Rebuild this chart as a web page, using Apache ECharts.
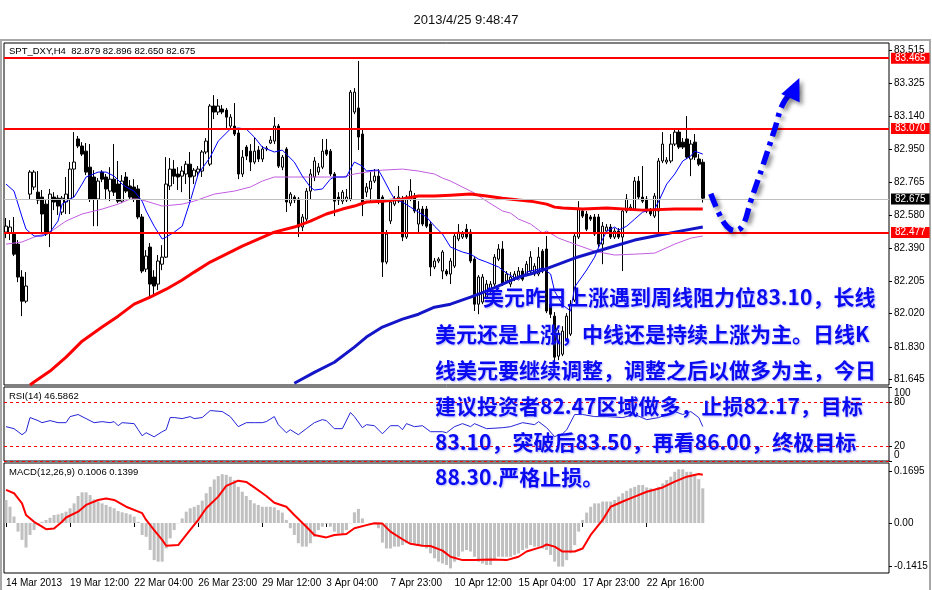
<!DOCTYPE html>
<html><head><meta charset="utf-8">
<script src="https://cdn.jsdelivr.net/npm/echarts@6/dist/echarts.min.js"></script>
<style>html,body{margin:0;padding:0;background:#fff}#c{width:932px;height:590px}</style>
</head><body><div id="c"></div>
<script>
// ---------------- data ----------------
const timeLabels = ['14 Mar 2013','19 Mar 12:00','22 Mar 04:00','26 Mar 23:00','29 Mar 12:00','3 Apr 04:00','7 Apr 23:00','10 Apr 12:00','15 Apr 04:00','17 Apr 23:00','22 Apr 16:00'];
const slotCount = 221;          // bar slots across the window (incl. empty right margin)
const labelEvery = 16;          // bars between time labels

const openP = [82.482,82.477,82.471,82.414,82.227,82.090,82.698,82.738,82.709,82.681,
82.641,82.482,82.681,82.675,82.596,82.653,82.670,82.840,83.011,82.971,
82.942,82.851,82.795,82.670,82.823,82.795,82.715,82.783,82.755,82.658,
82.795,82.744,82.738,82.727,82.568,82.272,82.397,82.227,82.187,82.300,
82.340,82.744,82.840,82.812,82.800,82.812,82.868,82.800,82.823,82.829,
82.937,82.868,83.198,83.164,83.181,83.175,83.084,83.084,83.045,82.812,
82.965,82.942,82.880,82.948,82.897,82.954,82.988,82.999,83.084,82.851,
82.954,82.647,82.681,82.670,82.511,82.556,82.715,82.795,82.823,82.851,
82.948,82.942,82.812,82.681,82.658,82.664,82.670,83.164,83.187,83.039,
82.709,82.727,82.772,82.800,82.681,82.312,82.545,82.641,82.658,82.670,
82.454,82.670,82.687,82.528,82.613,82.613,82.528,82.284,82.318,82.261,
82.261,82.244,82.289,82.443,82.454,82.499,82.482,82.329,82.073,82.085,
82.113,82.147,82.187,82.329,82.386,82.204,82.187,82.215,82.227,82.261,
82.244,82.261,82.244,82.244,82.374,82.386,82.073,82.005,81.778,81.789,
81.874,81.903,82.096,82.454,82.602,82.585,82.568,82.568,82.568,82.414,
82.488,82.511,82.454,82.488,82.454,82.602,82.613,82.613,82.772,82.681,
82.670,82.602,82.573,82.602,82.886,82.880,82.886,82.982,83.050,82.993,
83.011,82.897,82.993,82.897,82.879];
const closeP = [82.516,82.511,82.357,82.227,82.090,82.176,82.823,82.823,82.664,82.585,
82.471,82.698,82.653,82.630,82.675,82.698,82.840,82.880,82.971,82.925,
82.823,82.670,82.670,82.772,82.783,82.727,82.783,82.709,82.658,82.772,
82.715,82.681,82.670,82.568,82.261,82.346,82.187,82.176,82.318,82.340,
82.755,82.840,82.800,82.795,82.829,82.868,82.795,82.834,82.840,82.937,
82.999,83.198,83.164,83.198,83.164,83.135,83.135,83.039,82.812,82.908,
82.914,82.880,82.942,82.897,82.954,82.959,83.005,83.084,82.857,82.908,
82.653,82.698,82.664,82.511,82.568,82.715,82.812,82.886,82.851,82.942,
82.925,82.812,82.658,82.664,82.709,82.681,83.277,83.277,83.022,82.641,
82.738,82.772,82.800,82.658,82.312,82.471,82.653,82.670,82.681,82.454,
82.681,82.715,82.602,82.613,82.528,82.516,82.284,82.318,82.329,82.369,
82.244,82.318,82.460,82.482,82.471,82.454,82.318,82.073,82.227,82.227,
82.187,82.187,82.340,82.386,82.187,82.244,82.227,82.244,82.261,82.215,
82.300,82.340,82.289,82.340,82.261,82.034,82.016,81.772,81.903,81.920,
82.005,82.073,82.460,82.613,82.573,82.499,82.556,82.471,82.414,82.516,
82.511,82.454,82.488,82.454,82.602,82.670,82.624,82.772,82.681,82.658,
82.602,82.585,82.687,82.886,82.982,82.891,82.982,83.050,82.965,82.965,
82.908,82.982,82.908,82.868,82.675];
const highP = [82.562,82.550,82.568,82.437,82.266,82.255,82.834,82.834,82.829,82.721,
82.664,82.727,82.709,82.692,82.687,82.795,82.880,83.050,83.028,82.993,
82.988,82.982,82.834,82.789,82.834,82.812,82.851,82.982,82.886,82.806,
82.823,82.778,82.783,82.749,82.585,82.380,82.420,82.266,82.352,82.408,
82.908,82.903,82.891,82.851,82.857,82.886,82.937,82.846,82.857,82.948,
83.016,83.209,83.260,83.238,83.204,83.187,83.152,83.215,83.062,82.948,
82.976,82.982,83.022,82.971,82.971,82.971,83.028,83.135,83.096,82.920,
82.965,82.709,82.692,82.681,82.585,82.732,82.840,82.908,82.874,83.011,
83.011,82.954,82.823,82.709,82.721,82.727,83.289,83.300,83.454,83.062,
82.761,82.823,82.840,82.840,82.692,82.494,82.670,82.687,82.744,82.687,
82.692,82.783,82.704,82.658,82.630,82.630,82.545,82.335,82.340,82.380,
82.272,82.335,82.477,82.528,82.488,82.528,82.499,82.340,82.238,82.244,
82.210,82.204,82.357,82.414,82.431,82.261,82.255,82.261,82.284,82.278,
82.318,82.374,82.306,82.397,82.386,82.460,82.096,82.028,81.926,81.948,
82.022,82.096,82.477,82.658,82.619,82.602,82.579,82.585,82.585,82.539,
82.528,82.528,82.505,82.505,82.619,82.698,82.641,82.795,82.800,82.857,
82.687,82.619,82.704,82.903,83.050,82.908,83.039,83.067,83.062,83.016,
83.141,83.005,83.039,82.925,82.896];
const lowP = [82.448,82.437,82.346,82.198,82.005,82.079,82.670,82.721,82.641,82.471,
82.460,82.397,82.607,82.579,82.579,82.585,82.585,82.681,82.959,82.914,
82.806,82.653,82.516,82.516,82.766,82.664,82.658,82.687,82.647,82.647,
82.704,82.664,82.653,82.556,82.249,82.255,82.107,82.124,82.153,82.266,
82.335,82.721,82.755,82.721,82.709,82.755,82.658,82.755,82.800,82.795,
82.925,82.857,83.124,83.147,83.152,83.073,83.073,83.028,82.783,82.795,
82.891,82.829,82.868,82.880,82.880,82.942,82.982,82.982,82.846,82.834,
82.596,82.630,82.647,82.454,82.488,82.545,82.670,82.772,82.806,82.840,
82.914,82.800,82.573,82.636,82.641,82.653,82.658,83.152,82.948,82.573,
82.681,82.658,82.761,82.641,82.227,82.300,82.528,82.630,82.647,82.431,
82.443,82.658,82.590,82.482,82.516,82.505,82.232,82.272,82.306,82.215,
82.232,82.187,82.278,82.431,82.443,82.443,82.306,82.034,82.016,82.073,
82.102,82.136,82.176,82.318,82.176,82.193,82.170,82.204,82.215,82.204,
82.232,82.249,82.232,82.232,82.249,82.022,81.994,81.733,81.755,81.778,
81.863,81.892,82.085,82.443,82.562,82.488,82.545,82.460,82.391,82.300,
82.477,82.443,82.443,82.443,82.261,82.590,82.602,82.602,82.670,82.647,
82.590,82.573,82.562,82.471,82.874,82.868,82.874,82.971,82.954,82.954,
82.897,82.800,82.891,82.857,82.650];

// moving averages: [bar index, price]
const maFast = [[0,82.755],[2,82.715],[4,82.568],[5,82.499],[7,82.460],[9,82.460],[11,82.482],[13,82.545],[14,82.641],[16,82.670],[17,82.681],[19,82.755],[20,82.795],[23,82.823],[25,82.823],[27,82.800],[29,82.755],[30,82.738],[32,82.715],[34,82.658],[35,82.602],[37,82.516],[39,82.443],[40,82.454],[42,82.482],[44,82.516],[46,82.658],[48,82.812],[51,82.908],[53,82.999],[56,83.067],[58,83.073],[60,83.067],[62,83.022],[64,82.965],[67,82.937],[69,82.948],[70,82.925],[72,82.880],[74,82.800],[76,82.738],[77,82.721],[79,82.727],[81,82.783],[82,82.795],[85,82.795],[86,82.840],[87,82.880],[89,82.857],[90,82.829],[92,82.834],[93,82.834],[94,82.795],[96,82.709],[97,82.670],[99,82.653],[101,82.624],[103,82.596],[105,82.568],[107,82.516],[109,82.471],[111,82.397],[114,82.369],[116,82.357],[118,82.329],[120,82.312],[123,82.284],[125,82.249],[128,82.210],[130,82.255],[134,82.278],[136,82.244],[137,82.147],[139,82.068],[141,82.034],[142,82.170],[145,82.267],[147,82.340],[148,82.397],[150,82.488],[152,82.511],[153,82.494],[155,82.516],[157,82.556],[159,82.596],[162,82.613],[163,82.658],[165,82.755],[167,82.812],[169,82.886],[171,82.914],[172,82.942],[174,82.925]];
const maMid = [[0,82.414],[4,82.426],[7,82.454],[11,82.482],[15,82.545],[19,82.585],[24,82.613],[28,82.641],[31,82.670],[33,82.670],[35,82.658],[39,82.630],[44,82.641],[47,82.658],[52,82.698],[57,82.715],[61,82.738],[64,82.772],[67,82.795],[72,82.795],[80,82.795],[84,82.795],[87,82.812],[90,82.823],[94,82.834],[99,82.840],[103,82.829],[107,82.812],[109,82.789],[111,82.772],[116,82.715],[117,82.704],[120,82.658],[124,82.602],[126,82.590],[128,82.556],[131,82.528],[134,82.477],[135,82.488],[138,82.448],[142,82.414],[147,82.374],[152,82.352],[157,82.357],[162,82.363],[167,82.414],[171,82.448],[174,82.460]];
const maLong = [[6,81.614],[7,81.631],[11,81.693],[15,81.772],[19,81.863],[24,81.943],[28,82.005],[32,82.073],[36,82.113],[40,82.158],[44,82.210],[47,82.255],[51,82.312],[55,82.357],[59,82.403],[63,82.443],[67,82.482],[72,82.511],[76,82.545],[80,82.585],[84,82.613],[87,82.630],[90,82.653],[94,82.658],[99,82.670],[103,82.687],[107,82.687],[111,82.692],[116,82.698],[120,82.687],[124,82.675],[128,82.664],[131,82.658],[135,82.641],[137,82.624],[139,82.619],[144,82.613],[150,82.619],[159,82.607],[167,82.613],[174,82.613]];
const maVeryLong = [[72,81.624],[77,81.686],[82,81.743],[87,81.829],[90,81.886],[94,81.943],[99,81.988],[103,82.016],[107,82.056],[111,82.073],[116,82.113],[120,82.147],[124,82.187],[128,82.227],[131,82.244],[134,82.266],[138,82.300],[142,82.335],[147,82.369],[152,82.403],[157,82.437],[162,82.460],[167,82.482],[174,82.511]];

const levels = [83.465, 83.070, 82.477];
const lastPrice = 82.675;
const priceTicks = [83.515, 83.325, 83.140, 82.950, 82.765, 82.580, 82.390, 82.205, 82.020, 81.830, 81.645];

// projected path (hand-drawn arrow), [bar index, price]
const projection = [[175.5,82.700],[177.5,82.590],[179.5,82.515],[181.5,82.490],[183.5,82.520],[186,82.660],[189,82.860],[192,83.070],[194,83.210],[196.5,83.300]];

// RSI(14): [bar index, value]
const rsiLine = [[0,46.4],[2,43.7],[4,35.5],[5,39.6],[6,58.7],[8,54.6],[9,51.8],[11,54.6],[13,51.8],[15,51.8],[16,60.0],[18,62.8],[20,57.3],[22,51.8],[24,53.2],[26,51.8],[27,53.2],[28,47.7],[29,51.8],[32,50.5],[33,42.3],[34,34.1],[35,38.2],[37,32.7],[39,39.6],[40,42.3],[41,58.7],[42,58.7],[44,57.3],[46,60.0],[47,57.3],[49,58.7],[51,68.2],[54,66.8],[56,60.0],[58,46.4],[60,51.8],[62,51.8],[64,51.8],[65,53.2],[67,60.0],[68,49.1],[70,38.2],[71,42.3],[73,35.5],[75,43.7],[77,51.8],[79,55.9],[80,54.6],[82,43.7],[84,43.7],[86,65.5],[87,60.0],[89,45.0],[90,49.1],[92,47.7],[94,36.8],[96,47.7],[98,47.7],[99,42.3],[100,50.5],[102,46.4],[104,47.7],[106,39.6],[109,39.6],[110,38.2],[112,46.4],[114,50.5],[116,46.4],[117,50.5],[120,43.7],[124,45.0],[126,46.4],[129,51.8],[132,49.1],[133,53.2],[135,45.0],[137,33.0],[139,37.0],[140,42.0],[142,62.8],[144,62.8],[147,60.0],[150,60.0],[154,58.7],[157,62.8],[160,55.9],[163,58.7],[165,62.8],[167,66.8],[169,62.8],[171,66.8],[173,58.7],[174,46.59]];
const rsiInnerTicks = [80, 20];
const rsiEdgeTicks = [100, 0];
const rsiLevels = [80, 20, 0];

// MACD(12,26,9): histogram per bar, signal line [bar index, value]
const macdHist = [0.075,0.053,0.021,-0.028,-0.055,-0.080,-0.039,-0.023,-0.007,0.004,
0.010,0.017,0.026,0.028,0.032,0.037,0.048,0.064,0.088,0.100,
0.100,0.091,0.077,0.070,0.064,0.059,0.053,0.048,0.039,0.035,
0.032,0.028,0.021,0.004,-0.039,-0.045,-0.088,-0.121,-0.126,-0.126,
-0.083,-0.050,-0.023,-0.001,0.015,0.037,0.048,0.053,0.059,0.073,
0.097,0.118,0.142,0.153,0.159,0.157,0.151,0.140,0.118,0.102,
0.088,0.075,0.064,0.059,0.053,0.053,0.053,0.051,0.042,0.034,
0.010,-0.017,-0.039,-0.066,-0.077,-0.077,-0.066,-0.045,-0.023,-0.012,
-0.003,-0.012,-0.028,-0.034,-0.039,-0.023,-0.001,0.035,0.046,0.015,
0.000,-0.003,-0.003,-0.017,-0.064,-0.083,-0.083,-0.077,-0.077,-0.072,
-0.066,-0.064,-0.068,-0.074,-0.077,-0.083,-0.099,-0.115,-0.126,-0.132,
-0.137,-0.148,-0.126,-0.110,-0.093,-0.088,-0.093,
-0.110,-0.126,-0.132,-0.137,-0.137,-0.121,-0.110,-0.110,-0.110,-0.110,
-0.104,-0.099,-0.088,-0.083,-0.072,-0.077,-0.077,-0.083,-0.088,-0.104,
-0.126,-0.142,-0.142,-0.121,-0.099,-0.072,-0.028,0.010,0.034,0.053,
0.064,0.064,0.070,0.070,0.070,0.075,0.086,0.097,0.105,0.113,
0.118,0.124,0.124,0.116,0.113,0.108,0.118,0.129,0.140,0.151,
0.167,0.175,0.175,0.167,0.167,0.160,0.143,0.113];
const macdSignal = [[0,0.108],[2,0.097],[4,0.064],[5,0.026],[7,0.004],[9,-0.012],[10,-0.020],[12,-0.018],[14,0.004],[15,0.018],[18,0.037],[20,0.059],[23,0.075],[25,0.080],[27,0.075],[30,0.053],[34,0.032],[35,0.010],[37,-0.023],[39,-0.055],[40,-0.074],[43,-0.072],[45,-0.039],[48,0.010],[50,0.048],[53,0.086],[55,0.121],[58,0.138],[60,0.134],[62,0.116],[65,0.088],[67,0.066],[70,0.053],[72,0.026],[75,-0.012],[77,-0.039],[80,-0.047],[82,-0.039],[85,-0.036],[87,-0.017],[90,-0.007],[92,-0.001],[94,-0.002],[96,-0.028],[99,-0.053],[101,-0.068],[104,-0.074],[106,-0.075],[109,-0.090],[111,-0.110],[114,-0.121],[117,-0.121],[121,-0.119],[125,-0.121],[128,-0.110],[130,-0.093],[134,-0.077],[135,-0.070],[137,-0.077],[139,-0.093],[142,-0.093],[144,-0.083],[146,-0.039],[149,0.010],[151,0.053],[154,0.070],[157,0.086],[160,0.102],[164,0.116],[167,0.135],[170,0.151],[173,0.160],[174,0.157]];
const macdTicks = [0.1695, 0, -0.1415];

const headerText = '2013/4/25 9:48:47';
const priceLegend = 'SPT_DXY,H4  82.879 82.896 82.650 82.675';
const rsiLegend = 'RSI(14) 46.5862';
const macdLegend = 'MACD(12,26,9) 0.1006 0.1399';
const noteLines = ['美元昨日上涨遇到周线阻力位83.10，长线','美元还是上涨，中线还是持续上涨为主。日线K','线美元要继续调整，调整之后以做多为主，今日','建议投资者82.47区域做多，止损82.17，目标','83.10，突破后83.50，再看86.00，终极目标','88.30.严格止损。'];

// ---------------- chart ----------------
const FONT = 'Liberation Sans, Arial, sans-serif';
const cats = Array.from({length: slotCount}, (_, i) => String(i));
const candles = openP.map((o, i) => [o, closeP[i], lowP[i], highP[i]]);
const L = 4, R = 43;
const grids = [
  {left: L, right: R, top: 43, height: 342},
  {left: L, right: R, top: 387, height: 74},
  {left: L, right: R, top: 463, height: 110}
].map(g => Object.assign(g, {show: true, borderColor: '#000', borderWidth: 1, backgroundColor: 'transparent'}));

const isLabelSlot = i => i % labelEvery === 0 && (i / labelEvery) < timeLabels.length;
function xAx(idx, showLabels) {
  return {
    type: 'category', gridIndex: idx, data: cats, boundaryGap: true,
    axisLine: {show: false},
    axisTick: showLabels ? {show: true, interval: (i) => isLabelSlot(i), alignWithLabel: true, length: 4, lineStyle: {color: '#000'}} : {show: false},
    axisLabel: showLabels ? {show: true, interval: (i) => isLabelSlot(i), align: 'left', margin: 5, fontSize: 10, fontFamily: FONT, color: '#000',
      formatter: (v, i) => timeLabels[i / labelEvery] || ''} : {show: false},
    splitLine: {show: false}
  };
}
const yBase = {type: 'value', position: 'right', splitLine: {show: false}, axisLine: {show: false}, scale: true};
const lblStyle = {fontSize: 10, fontFamily: FONT, color: '#000', margin: 5, showMinLabel: true, showMaxLabel: true, hideOverlap: false};
const richLbl = {fontSize: 10, fontFamily: FONT, color: '#000'};

const chart = echarts.init(document.getElementById('c'), null, {renderer: 'canvas'});
chart.setOption({
  animation: false,
  backgroundColor: '#fff',
  title: {text: headerText, left: 'center', top: 9, textStyle: {fontSize: 13, fontWeight: 'normal', fontFamily: FONT, color: '#111'}},
  grid: grids,
  xAxis: [xAx(0, false), xAx(1, false), xAx(2, true)],
  yAxis: [
    Object.assign({}, yBase, {gridIndex: 0, min: 81.614, max: 83.556,
      axisTick: {show: true, length: 3, customValues: priceTicks, lineStyle: {color: '#000'}},
      axisLabel: Object.assign({customValues: priceTicks, formatter: v => v.toFixed(3)}, lblStyle)}),
    Object.assign({}, yBase, {gridIndex: 1, min: 0, max: 100,
      axisTick: {show: true, length: 3, customValues: rsiInnerTicks, lineStyle: {color: '#000'}},
      axisLabel: Object.assign({customValues: rsiInnerTicks, formatter: v => String(v)}, lblStyle)}),
    Object.assign({}, yBase, {gridIndex: 2, min: -0.163, max: 0.1956,
      axisTick: {show: true, length: 3, customValues: macdTicks, lineStyle: {color: '#000'}},
      axisLabel: Object.assign({customValues: macdTicks, formatter: v => v === 0 ? '0.00' : String(v)}, lblStyle)}),
    Object.assign({}, yBase, {gridIndex: 1, min: 0, max: 100,
      axisTick: {show: true, length: 3, customValues: rsiEdgeTicks, lineStyle: {color: '#000'}},
      axisLabel: Object.assign({customValues: rsiEdgeTicks,
        formatter: v => v === 100 ? '{dn|100}' : '{up|0}',
        rich: {dn: Object.assign({padding: [12, 0, 0, 0]}, richLbl), up: Object.assign({padding: [0, 0, 11, 0]}, richLbl)}}, lblStyle)})
  ],
  series: [
    {type: 'candlestick', xAxisIndex: 0, yAxisIndex: 0, data: candles, barWidth: 3, z: 2,
      itemStyle: {color: '#fff', color0: '#000', borderColor: '#000', borderColor0: '#000', borderWidth: 1}},
    {type: 'line', xAxisIndex: 0, yAxisIndex: 0, data: maMid, symbol: 'none', z: 3,
      lineStyle: {color: '#c25ee0', width: 1}},
    {type: 'line', xAxisIndex: 0, yAxisIndex: 0, data: maFast, symbol: 'none', z: 3,
      lineStyle: {color: '#0000ff', width: 1}},
    {type: 'line', xAxisIndex: 0, yAxisIndex: 0, data: maLong, symbol: 'none', z: 4,
      lineStyle: {color: '#ff0000', width: 3}},
    {type: 'line', xAxisIndex: 0, yAxisIndex: 0, data: maVeryLong, symbol: 'none', z: 4,
      lineStyle: {color: '#1515c8', width: 3},
      markLine: {silent: true, symbol: 'none', animation: false,
        data: levels.map(v => ({yAxis: v, lineStyle: {color: '#ff0000', width: 2, type: 'solid'},
          label: {show: true, position: 'end', distance: 2, formatter: () => v.toFixed(3), color: '#fff', backgroundColor: '#ff0000',
            padding: [1, 4, 0, 4], fontSize: 10, fontFamily: FONT}}))
          .concat([{yAxis: lastPrice, lineStyle: {color: '#c0c0c0', width: 1, type: 'solid'},
          label: {show: true, position: 'end', distance: 2, formatter: () => lastPrice.toFixed(3), color: '#fff', backgroundColor: '#000',
            padding: [1, 4, 0, 4], fontSize: 10, fontFamily: FONT}}])}},
    {type: 'line', xAxisIndex: 0, yAxisIndex: 0, z: 6, smooth: 0.4, showSymbol: true, showAllSymbol: true, symbol: 'none',
      data: projection.map((p, i) => i === projection.length - 1
        ? {value: p, symbol: 'triangle', symbolSize: [20, 22], symbolRotate: -24, itemStyle: {color: '#0000ff', shadowColor: 'rgba(0,0,0,0.45)', shadowBlur: 4, shadowOffsetX: 3, shadowOffsetY: 3}}
        : p),
      lineStyle: {color: '#0000ff', width: 5.5, type: [14, 6, 4, 6], cap: 'butt', shadowColor: 'rgba(0,0,0,0.45)', shadowBlur: 4, shadowOffsetX: 3, shadowOffsetY: 3}},
    {type: 'line', xAxisIndex: 1, yAxisIndex: 1, data: rsiLine, symbol: 'none', z: 3,
      lineStyle: {color: '#2424d8', width: 1},
      markLine: {silent: true, symbol: 'none', label: {show: false},
        lineStyle: {color: '#ff0000', width: 1, type: [3, 3]}, data: rsiLevels.map(v => ({yAxis: v}))}},
    {type: 'bar', xAxisIndex: 2, yAxisIndex: 2, data: macdHist, barWidth: 3, itemStyle: {color: '#c0c0c0'}, z: 2},
    {type: 'line', xAxisIndex: 2, yAxisIndex: 2, data: macdSignal, symbol: 'none', z: 3,
      lineStyle: {color: '#ff0000', width: 2}}
  ],
  graphic: [
    {type: 'rect', silent: true, z: -1, shape: {x: 1, y: 40, width: 929, height: 552}, style: {fill: 'none', stroke: '#a8a8a8', lineWidth: 2}},
    {type: 'text', left: 9, top: 46, z: 50, style: {text: priceLegend, font: '9.5px ' + FONT, fill: '#000'}},
    {type: 'text', left: 9, top: 391, z: 50, style: {text: rsiLegend, font: '9.5px ' + FONT, fill: '#000'}},
    {type: 'text', left: 9, top: 467, z: 50, style: {text: macdLegend, font: '9.5px ' + FONT, fill: '#000'}}
  ].concat(noteLines.map((t, i) => ({
    type: 'text', z: 100, left: i === 0 ? 483 : 435, top: [287, 324, 360, 396, 432, 467][i],
    style: {text: t, font: 'bold 21px "Noto Sans CJK SC", sans-serif', fill: '#0b0bf2',
      textShadowColor: 'rgba(90,90,255,0.45)', textShadowBlur: 2, textShadowOffsetX: 1, textShadowOffsetY: 1}
  })))
});
</script></body></html>
